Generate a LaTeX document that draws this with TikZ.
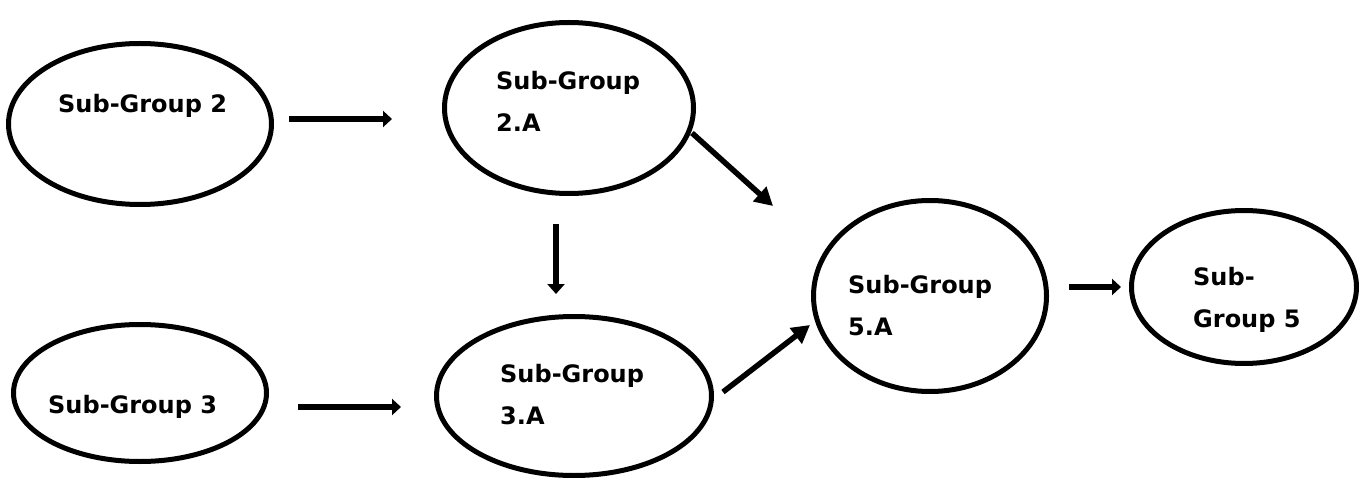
\documentclass[tikz,border=0pt]{standalone}
\usepackage{fontspec}
\setmainfont{DejaVu Sans}
\usetikzlibrary{shapes.geometric,arrows.meta,calc}
\tikzset{
  grp/.style={draw=black, line width=5pt, ellipse, inner sep=0pt, fill=white},
  lbl/.style={anchor=base west, inner sep=0pt, align=left, font=\fontsize{24}{42}\selectfont\bfseries},
  harr/.style={line width=6pt, -{Triangle[length=9pt,width=16pt]}},
  varr/.style={line width=6.5pt, -{Triangle[length=10pt,width=17pt]}},
  darr/.style={line width=5.5pt, -{Triangle[length=18pt,width=19pt]}}
}
\begin{document}
\begin{tikzpicture}[x=1pt,y=1pt]
\useasboundingbox (0,0) rectangle (1359,477);
% ellipses
\node[grp, minimum width=263pt, minimum height=161pt] (e2) at (140,353) {};
\node[grp, minimum width=249pt, minimum height=171pt] (e2a) at (569,369) {};
\node[grp, minimum width=253pt, minimum height=137pt] (e3) at (140,84) {};
\node[grp, minimum width=275pt, minimum height=159pt] (e3a) at (574,81) {};
\node[grp, minimum width=233pt, minimum height=191pt] (e5a) at (930,181) {};
\node[grp, minimum width=225pt, minimum height=153pt] (e5) at (1244,190) {};
% labels (base = baseline of the last line)
\node[lbl] (t2) at (58,364) {Sub-Group 2};
\node[lbl] (t2a) at (496,345) {Sub-Group\\2.A};
\node[lbl] (t3) at (48,64) {Sub-Group 3};
\node[lbl] (t3a) at (500,53) {Sub-Group\\3.A};
\node[lbl] (t5a) at (848,142) {Sub-Group\\5.A};
\node[lbl] (t5) at (1193,150) {Sub-\\Group 5};
% connectors
\draw[harr] ($(e2.east)+(15,5)$) -- ($(e2a.west)+(-50,-11)$);
\draw[harr] ($(e3.east)+(29,-14)$) -- ($(e3a.west)+(-33,-11)$);
\draw[varr] ($(e2a.south)+(-13,-28)$) -- ($(e3a.north)+(-18,20)$);
\draw[darr] ($(e2a.center)+(123,-25)$) -- ($(e5a.center)+(-157,90)$);
\draw[darr] ($(e3a.east)+(9,4)$) -- ($(e5a.center)+(-120,-29)$);
\draw[harr] ($(e5a.east)+(20,9)$) -- ($(e5.west)+(-8,0)$);
\end{tikzpicture}
\end{document}
